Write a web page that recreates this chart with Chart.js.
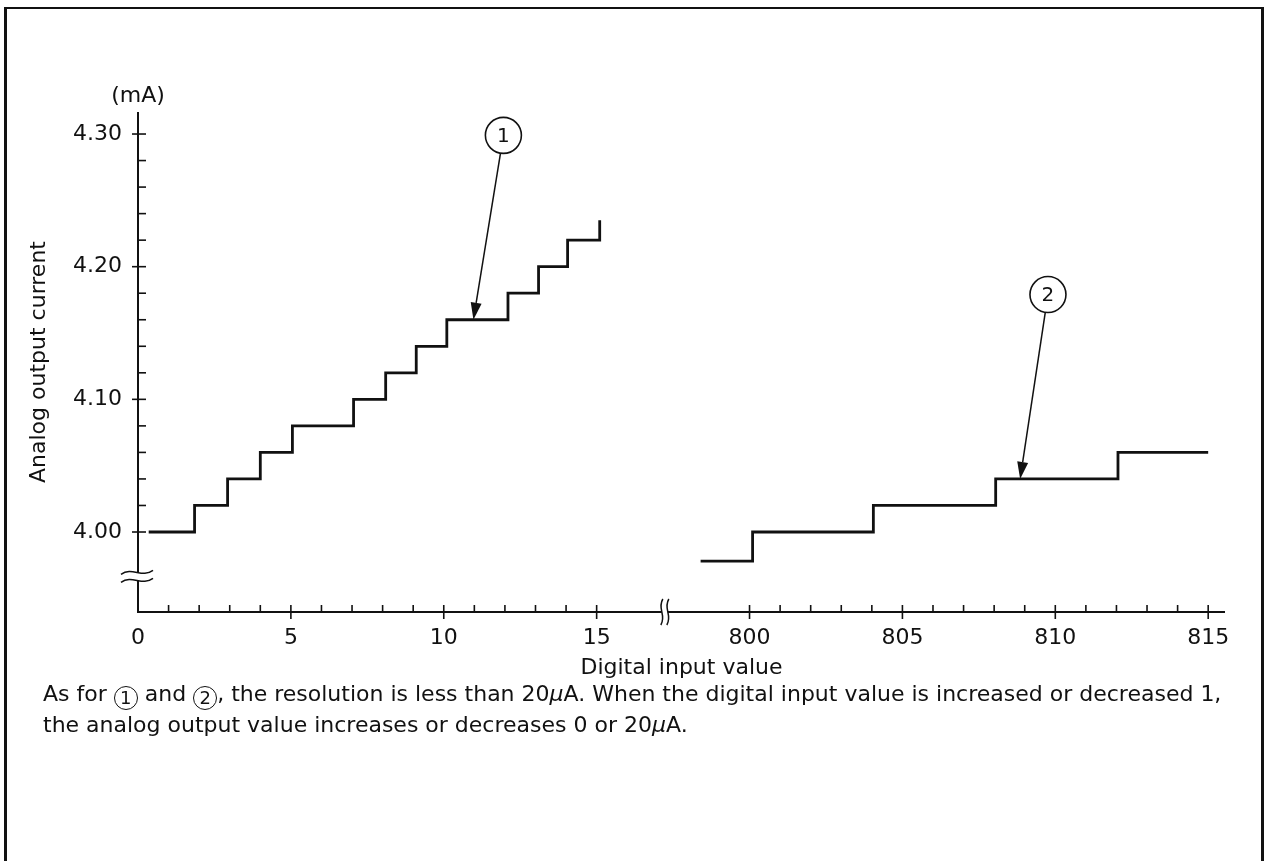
<!DOCTYPE html>
<html>
<head>
<meta charset="utf-8">
<script src="https://cdn.jsdelivr.net/npm/chart.js@4.4.1/dist/chart.umd.min.js"></script>
<style>
  html, body { margin: 0; padding: 0; background: #fff; }
  #wrap { position: relative; width: 1264px; height: 861px; overflow: hidden; background: #fff; }
  #frame { position: absolute; left: 4px; top: 7px; width: 1254px; height: 900px;
           border-left: 3px solid #111; border-top: 2px solid #111; border-right: 3px solid #111; }
  #chart { position: absolute; left: 0; top: 0; }
  #caption { position: absolute; left: 43px; top: 679px; font-family: "DejaVu Sans"; font-size: 22px;
             line-height: 29px; color: #111; white-space: nowrap; }
  .c { display: inline-block; box-sizing: border-box; width: 24px; height: 24px; border: 1.6px solid #111;
       border-radius: 50%; text-align: center; line-height: 21px; font-size: 18px; vertical-align: -3px; }
</style>
</head>
<body>
<div id="wrap">
  <div id="frame"></div>
  <canvas id="chart" width="1264" height="861"></canvas>
  <div id="caption">As for <span class="c">1</span> and <span class="c">2</span>, the resolution is less than 20<i>μ</i>A. When the digital input value is increased or decreased 1,<br>the analog output value increases or decreases 0 or 20<i>μ</i>A.</div>
</div>
<script>
// ---- data ----
const codes1   = [0.35, 1.85, 2.93, 4.0, 5.05, 7.05, 8.1, 9.1, 10.1, 12.1, 13.1, 14.05, 15.1];
const current1 = [4.00, 4.02, 4.04, 4.06, 4.08, 4.10, 4.12, 4.14, 4.16, 4.18, 4.20, 4.22, 4.235];
const codes2   = [798.4, 800.1, 804.05, 808.05, 812.05, 815.0];
const current2 = [3.978, 4.00, 4.02, 4.04, 4.06, 4.06];

const xTickCodes  = [0,1,2,3,4,5,6,7,8,9,10,11,12,13,14,15, 800,801,802,803,804,805,806,807,808,809,810,811,812,813,814,815];
const xLabelCodes = [0, 5, 10, 15, 800, 805, 810, 815];
const yTickValues  = [4.00,4.02,4.04,4.06,4.08,4.10,4.12,4.14,4.16,4.18,4.20,4.22,4.24,4.26,4.28,4.30];
const yLabelValues = [4.00, 4.10, 4.20, 4.30];

const calloutLabels  = ['1', '2'];
const calloutCenterX = [11.95, 809.76];
const calloutCenterY = [4.299, 4.179];
const calloutTipX    = [10.97, 808.85];
const calloutTipY    = [4.16, 4.04];

const yUnit = '(mA)';
const xTitle = 'Digital input value';
const yTitle = 'Analog output current';

// broken x axis: codes >= 400 are shifted down next to the low range
const BREAK_OFFSET = 780;
const toAxis = v => (v >= 400 ? v - BREAK_OFFSET : v);
const fromAxis = u => (u >= 18 ? u + BREAK_OFFSET : u);
const X_BREAK_U = 17.23;     // where the x axis break symbol sits (axis units)
const Y_BREAK = 3.9665;      // where the y axis break symbol sits

const INK = '#111';
const FONT = { family: 'DejaVu Sans', size: 22 };

const decor = {
  id: 'decor',
  afterDatasetsDraw(chart) {
    const { ctx, scales: { x, y }, chartArea } = chart;
    const X = v => x.getPixelForValue(toAxis(v));
    const Y = v => y.getPixelForValue(v);
    const seg = (a, b, c, d) => { ctx.beginPath(); ctx.moveTo(a, b); ctx.lineTo(c, d); ctx.stroke(); };
    ctx.save();
    ctx.strokeStyle = INK; ctx.fillStyle = INK; ctx.lineCap = 'butt';
    const x0 = chartArea.left, yb = chartArea.bottom;

    // axes with breaks
    ctx.lineWidth = 2;
    const yBr = Y(Y_BREAK);
    seg(x0, chartArea.top, x0, yBr - 4);
    seg(x0, yBr + 4, x0, yb + 1);
    const xBr = x.getPixelForValue(X_BREAK_U);
    seg(x0 - 1, yb, xBr - 3, yb);
    seg(xBr + 3, yb, chartArea.right, yb);

    // y ticks
    ctx.lineWidth = 1.6;
    yTickValues.forEach(v => {
      const p = Y(v);
      const major = yLabelValues.some(l => Math.abs(l - v) < 1e-6);
      seg(major ? x0 - 6 : x0, p, x0 + 8, p);
    });
    // x ticks
    xTickCodes.forEach(c => {
      const p = X(c);
      if (c === 0) return;
      const major = xLabelCodes.includes(c);
      seg(p, yb - 7, p, major ? yb + 7 : yb);
    });

    // break symbols
    ctx.lineWidth = 1.5;
    [-4, 4].forEach(d => {
      const yc = yBr + d;
      ctx.beginPath();
      ctx.moveTo(x0 - 17, yc + 2);
      ctx.bezierCurveTo(x0 - 6, yc - 6, x0 + 4, yc + 6, x0 + 15, yc - 2);
      ctx.stroke();
    });
    [-3, 3].forEach(d => {
      const xc = xBr + d;
      ctx.beginPath();
      ctx.moveTo(xc + 1, yb - 13);
      ctx.bezierCurveTo(xc - 5, yb - 3, xc + 5, yb + 3, xc - 1, yb + 13);
      ctx.stroke();
    });

    // unit label
    ctx.font = '22px "DejaVu Sans"';
    ctx.textAlign = 'center'; ctx.textBaseline = 'middle';
    ctx.fillText(yUnit, x0, chartArea.top - 16);

    // callouts
    calloutLabels.forEach((lab, i) => {
      const cx = X(calloutCenterX[i]), cy = Y(calloutCenterY[i]);
      const tx = X(calloutTipX[i]), ty = Y(calloutTipY[i]);
      const r = 18;
      ctx.lineWidth = 1.6;
      ctx.beginPath(); ctx.arc(cx, cy, r, 0, Math.PI * 2); ctx.stroke();
      ctx.font = '20px "DejaVu Sans"';
      ctx.fillText(lab, cx, cy + 1);
      const dx = tx - cx, dy = ty - cy, L = Math.hypot(dx, dy);
      const ux = dx / L, uy = dy / L;
      const head = 17, half = 5.5;
      ctx.lineWidth = 1.5;
      seg(cx + ux * r, cy + uy * r, tx - ux * head, ty - uy * head);
      ctx.beginPath();
      ctx.moveTo(tx, ty);
      ctx.lineTo(tx - ux * head - uy * half, ty - uy * head + ux * half);
      ctx.lineTo(tx - ux * head + uy * half, ty - uy * head - ux * half);
      ctx.closePath(); ctx.fill();
    });
    ctx.restore();
  }
};

const stepLine = (codes, vals) => ({
  data: codes.map((c, i) => ({ x: toAxis(c), y: vals[i] })),
  stepped: true,
  borderColor: INK,
  borderWidth: 2.8,
  pointRadius: 0,
  fill: false,
  tension: 0
});

new Chart(document.getElementById('chart').getContext('2d'), {
  type: 'line',
  data: { datasets: [stepLine(codes1, current1), stepLine(codes2, current2)] },
  options: {
    responsive: false,
    animation: false,
    devicePixelRatio: 1,
    layout: { padding: { left: 0, top: 112, right: 39, bottom: 0 } },
    plugins: { legend: { display: false }, tooltip: { enabled: false } },
    scales: {
      x: {
        type: 'linear',
        min: 0,
        max: 35.55,
        afterBuildTicks: s => { s.ticks = xTickCodes.map(c => ({ value: toAxis(c) })); },
        afterFit: s => { s.height = 249; },
        grid: { display: false, drawTicks: false },
        border: { display: false },
        ticks: {
          autoSkip: false, maxRotation: 0, minRotation: 0, padding: 13, color: INK, font: FONT,
          callback: v => {
            const code = Math.round(fromAxis(v));
            return xLabelCodes.includes(code) ? String(code) : '';
          }
        },
        title: { display: true, text: xTitle, color: INK, font: FONT, padding: { top: 0, bottom: 180 } }
      },
      y: {
        type: 'linear',
        min: 3.9397,
        max: 4.3166,
        afterBuildTicks: s => { s.ticks = yTickValues.map(v => ({ value: v })); },
        afterFit: s => { s.width = 138; },
        grid: { display: false, drawTicks: false },
        border: { display: false },
        ticks: {
          autoSkip: false, padding: 16, color: INK, font: FONT,
          callback: v => (yLabelValues.some(l => Math.abs(l - v) < 1e-6) ? v.toFixed(2) : '')
        },
        title: { display: true, text: yTitle, color: INK, font: FONT, padding: { top: 26, bottom: 0 } }
      }
    }
  },
  plugins: [decor]
});
</script>
</body>
</html>
